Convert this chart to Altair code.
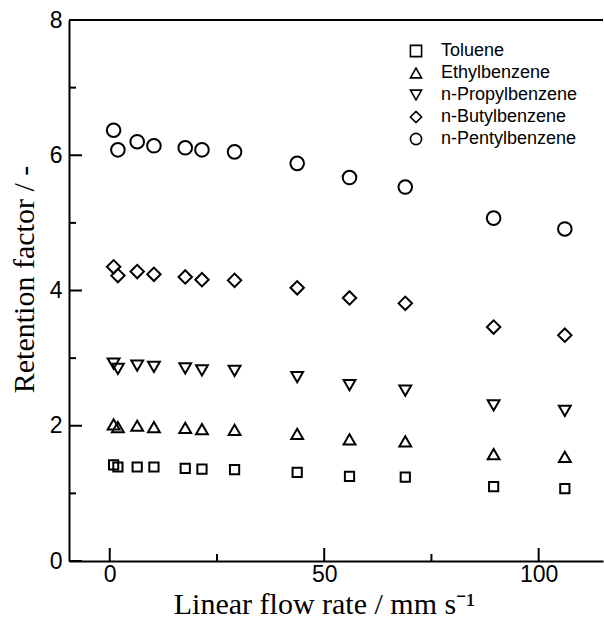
import altair as alt
import pandas as pd

# ---- data ----
flow = [0.9, 1.9, 6.4, 10.3, 17.6, 21.5, 29.1, 43.7, 55.9, 68.9, 89.5, 106.1]
toluene = [1.42, 1.39, 1.39, 1.39, 1.37, 1.36, 1.35, 1.31, 1.25, 1.24, 1.10, 1.07]
ethyl = [2.02, 1.98, 2.00, 1.98, 1.97, 1.95, 1.94, 1.88, 1.80, 1.77, 1.58, 1.54]
propyl = [2.92, 2.84, 2.89, 2.87, 2.85, 2.82, 2.81, 2.72, 2.60, 2.52, 2.30, 2.22]
butyl = [4.35, 4.22, 4.28, 4.24, 4.20, 4.16, 4.15, 4.04, 3.89, 3.81, 3.46, 3.34]
pentyl = [6.37, 6.08, 6.20, 6.14, 6.11, 6.08, 6.05, 5.88, 5.67, 5.53, 5.07, 4.91]

names = ["Toluene", "Ethylbenzene", "n-Propylbenzene", "n-Butylbenzene", "n-Pentylbenzene"]
series = [toluene, ethyl, propyl, butyl, pentyl]
shapes = ["square", "triangle-up", "triangle-down", "diamond", "circle"]
sizes = [85, 140, 140, 180, 185]

x_major = [0, 50, 100]
x_minor = [25, 75]
y_major = [0, 2, 4, 6, 8]
y_minor = [1, 3, 5, 7]

rows = []
for n, vals in zip(names, series):
    for u, k in zip(flow, vals):
        rows.append({"compound": n, "u": u, "k": k})
df = pd.DataFrame(rows)

W, H = 534, 541
MAJ, MIN = 13, 7

xs = alt.Scale(domain=[-9.5, 115], nice=False, zero=False)
ys = alt.Scale(domain=[0, 8], nice=False, zero=False)

LABEL_FONT = "Liberation Sans"
TITLE_FONT = "Liberation Serif"

X_AXIS = alt.Axis(
    values=x_major, ticks=False, tickSize=0, domain=True, domainColor="black",
    domainWidth=2, labelPadding=2, labelFont=LABEL_FONT, labelFontSize=23,
    labelColor="black", title="Linear flow rate / mm s⁻¹", titleFont=TITLE_FONT,
    titleFontSize=30, titleFontWeight="normal", titleColor="black",
    titlePadding=3, titleX=255, grid=False, orient="bottom")
Y_AXIS = alt.Axis(
    values=y_major, ticks=False, tickSize=0, domain=True, domainColor="black",
    domainWidth=2, labelPadding=7, labelFont=LABEL_FONT, labelFontSize=23,
    labelColor="black", title="Retention factor / -", titleFont=TITLE_FONT,
    titleFontSize=30, titleFontWeight="normal", titleColor="black",
    titlePadding=10, titleY=259, grid=False, orient="left")

SHAPE = alt.Shape("compound:N", scale=alt.Scale(domain=names, range=shapes),
                  legend=alt.Legend(orient="none", legendX=338, legendY=22,
                                    labelFont=LABEL_FONT, labelFontSize=18,
                                    labelColor="black", symbolSize=125,
                                    symbolStrokeColor="black", symbolStrokeWidth=1.6,
                                    symbolOpacity=1,
                                    rowPadding=4, labelOffset=16))

point_layers = []
for n, s in zip(names, sizes):
    point_layers.append(
        alt.Chart(df).transform_filter(alt.datum.compound == n)
        .mark_point(filled=False, color="black", strokeWidth=2, size=s, opacity=1)
        .encode(x=alt.X("u:Q", scale=xs, axis=X_AXIS),
                y=alt.Y("k:Q", scale=ys, axis=Y_AXIS),
                shape=SHAPE)
    )

ytick_major = pd.DataFrame({"k": y_major})
ytick_minor = pd.DataFrame({"k": y_minor})
xtick_major = pd.DataFrame({"u": x_major})
xtick_minor = pd.DataFrame({"u": x_minor})


def ytick(data, length):
    return alt.Chart(data).mark_rule(color="black", strokeWidth=2).encode(
        y=alt.Y("k:Q", scale=ys, axis=Y_AXIS),
        x=alt.value(0), x2=alt.value(length))


def xtick(data, length):
    return alt.Chart(data).mark_rule(color="black", strokeWidth=2).encode(
        x=alt.X("u:Q", scale=xs, axis=X_AXIS),
        y=alt.value(H), y2=alt.value(H - length))


top_line = alt.Chart(xtick_major).mark_rule(color="black", strokeWidth=2).encode(
    x=alt.value(0), x2=alt.value(W), y=alt.value(0))

chart = alt.layer(
    ytick(ytick_major, MAJ), ytick(ytick_minor, MIN),
    xtick(xtick_major, MAJ), xtick(xtick_minor, MIN),
    top_line, *point_layers,
).properties(
    width=W, height=H,
    autosize=alt.AutoSizeParams(type="none"),
    padding={"left": 69, "top": 20, "right": 1, "bottom": 65},
    background="white",
).configure_view(stroke=None).configure_legend(title=None)

chart.save("out.html", embed_options={"renderer": "svg", "actions": False})
